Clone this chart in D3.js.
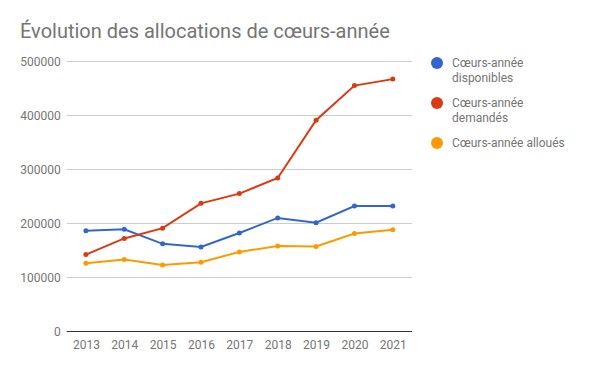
<!DOCTYPE html>
<html>
<head>
<meta charset="utf-8">
<script src="https://cdn.jsdelivr.net/npm/d3@7"></script>
<style>
  body { margin: 0; background: #fff; }
  text { font-family: Roboto, sans-serif; }
</style>
</head>
<body>
<svg width="600" height="371"></svg>
<script>
var years = ['2013', '2014', '2015', '2016', '2017', '2018', '2019', '2020', '2021'];
var disponibles = [186000, 189000, 162000, 156000, 182000, 210000, 201000, 232000, 232000];
var demandes = [142000, 172000, 191000, 237000, 255000, 284000, 391000, 455000, 467000];
var alloues = [126000, 133000, 123000, 128000, 147000, 158000, 157000, 181000, 188000];
var yTicks = [0, 100000, 200000, 300000, 400000, 500000];
var seriesNames = ['Cœurs-année disponibles', 'Cœurs-année demandés', 'Cœurs-année alloués'];
var legendLines = [['Cœurs-année', 'disponibles'], ['Cœurs-année', 'demandés'], ['Cœurs-année alloués']];
var colors = ['#3366cc', '#dc3912', '#ff9900'];

var series = [disponibles, demandes, alloues].map(function (vals, i) {
    return { name: seriesNames[i], color: colors[i], values: vals };
});

var svg = d3.select('svg');

var x = d3.scalePoint().domain(years).range([66.7, 412]).padding(0.5);
var y = d3.scaleLinear().domain([0, 500000]).range([331.3, 61.3]);

svg.append('text')
    .attr('x', 20).attr('y', 38)
    .attr('font-size', 20)
    .attr('fill', '#757575')
    .text('Évolution des allocations de cœurs-année');

// grid
svg.append('g').selectAll('line')
    .data(yTicks.filter(function (d) { return d > 0; }))
    .enter().append('line')
    .attr('x1', 66.7).attr('x2', 412)
    .attr('y1', function (d) { return Math.round(y(d)) + 0.5; })
    .attr('y2', function (d) { return Math.round(y(d)) + 0.5; })
    .attr('stroke', '#cccccc');

var yAxis = svg.append('g')
    .attr('transform', 'translate(66.7,0)')
    .call(d3.axisLeft(y).tickValues(yTicks).tickSize(0).tickPadding(6).tickFormat(d3.format('d')));
yAxis.select('.domain').remove();
yAxis.selectAll('text').attr('font-size', 12).attr('fill', '#757575').attr('font-family', 'Roboto, sans-serif');

var xAxis = svg.append('g')
    .attr('transform', 'translate(0,' + y(0) + ')')
    .call(d3.axisBottom(x).tickSize(0).tickPadding(9));
xAxis.select('.domain').remove();
xAxis.selectAll('text').attr('font-size', 12).attr('fill', '#757575').attr('font-family', 'Roboto, sans-serif');

svg.append('line')
    .attr('x1', 66.7).attr('x2', 412)
    .attr('y1', Math.round(y(0)) + 0.5).attr('y2', Math.round(y(0)) + 0.5)
    .attr('stroke', '#333333');

var line = d3.line()
    .x(function (d, i) { return x(years[i]); })
    .y(function (d) { return y(d); });

var g = svg.append('g').selectAll('g').data(series).enter().append('g');
g.append('path')
    .attr('d', function (d) { return line(d.values); })
    .attr('fill', 'none')
    .attr('stroke', function (d) { return d.color; })
    .attr('stroke-width', 2);
g.selectAll('circle')
    .data(function (d) { return d.values.map(function (v, i) { return { v: v, i: i, c: d.color }; }); })
    .enter().append('circle')
    .attr('cx', function (d) { return x(years[d.i]); })
    .attr('cy', function (d) { return y(d.v); })
    .attr('r', 2.5)
    .attr('fill', function (d) { return d.c; });

// legend
var leg = svg.append('g').selectAll('g').data(series).enter().append('g')
    .attr('transform', function (d, i) { return 'translate(437,' + (63 + i * 40) + ')'; });
leg.append('circle').attr('r', 6).attr('fill', function (d) { return d.color; });
leg.append('text')
    .attr('x', 15).attr('y', 4)
    .attr('font-size', 12)
    .attr('fill', '#757575')
    .each(function (d, i) {
        var t = d3.select(this);
        legendLines[i].forEach(function (s, k) {
            t.append('tspan').attr('x', 15).attr('dy', k === 0 ? 0 : 15).text(s);
        });
    });
</script>
</body>
</html>
